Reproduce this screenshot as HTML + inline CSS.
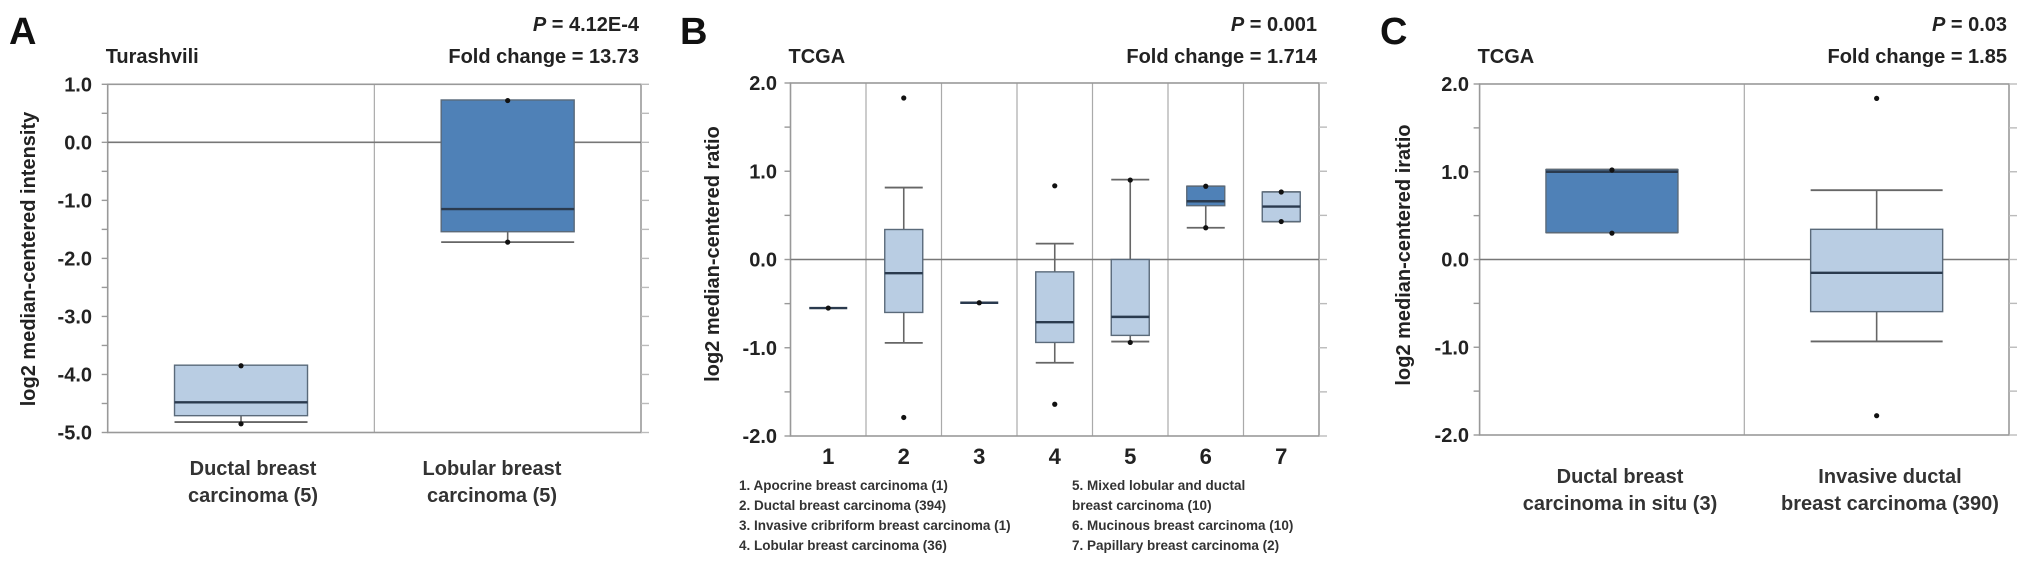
<!DOCTYPE html>
<html><head><meta charset="utf-8"><style>
html,body{margin:0;padding:0;background:#fff;}
svg{display:block;font-family:"Liberation Sans",Arial,sans-serif;}
</style></head><body>
<svg id="fig" width="2031" height="568" viewBox="0 0 2031 568" xmlns="http://www.w3.org/2000/svg"></svg>
<script>
// Panel A data
const aCategories = ["Ductal breast|carcinoma (5)", "Lobular breast|carcinoma (5)"];
const aWhiskerHigh = [-3.85, 0.72];
const aQ3 = [-3.84, 0.73];
const aMedian = [-4.48, -1.15];
const aQ1 = [-4.71, -1.54];
const aWhiskerLow = [-4.82, -1.72];
const aDots = [[-3.85, -4.85], [0.72, -1.72]];
const aDark = [false, true];
const aTicks = ["1.0","0.0","-1.0","-2.0","-3.0","-4.0","-5.0"];
// Panel B data
const bCategories = ["1","2","3","4","5","6","7"];
const bWhiskerHigh = [-0.55, 0.815, -0.49, 0.18, 0.905, 0.83, 0.765];
const bQ3 = [-0.55, 0.34, -0.49, -0.14, 0.0, 0.83, 0.765];
const bMedian = [-0.55, -0.155, -0.49, -0.71, -0.65, 0.66, 0.60];
const bQ1 = [-0.55, -0.60, -0.49, -0.94, -0.86, 0.61, 0.43];
const bWhiskerLow = [-0.55, -0.945, -0.49, -1.17, -0.93, 0.36, 0.43];
const bDots = [[-0.55], [1.83, -1.79], [-0.49], [0.835, -1.64], [0.9, -0.94], [0.83, 0.36], [0.765, 0.43]];
const bDark = [false, false, false, false, false, true, false];
const bTicks = ["2.0","1.0","0.0","-1.0","-2.0"];
const bLegendLeft = ["1. Apocrine breast carcinoma  (1)","2. Ductal breast carcinoma (394)","3. Invasive cribriform breast carcinoma  (1)","4. Lobular breast carcinoma (36)"];
const bLegendRight = ["5. Mixed lobular and ductal","    breast carcinoma  (10)","6. Mucinous breast carcinoma (10)","7. Papillary breast carcinoma (2)"];
// Panel C data
const cCategories = ["Ductal breast|carcinoma in situ (3)", "Invasive ductal|breast carcinoma (390)"];
const cWhiskerHigh = [1.025, 0.79];
const cQ3 = [1.025, 0.344];
const cMedian = [1.0, -0.152];
const cQ1 = [0.307, -0.594];
const cWhiskerLow = [0.307, -0.934];
const cDots = [[1.02, 0.30], [1.836, -1.78]];
const cDark = [true, false];
const cTicks = ["2.0","1.0","0.0","-1.0","-2.0"];

const NS = "http://www.w3.org/2000/svg";
const svg = document.getElementById("fig");
function mk(tag, attrs, parent){
  const e = document.createElementNS(NS, tag);
  for (const k in attrs) e.setAttribute(k, attrs[k]);
  (parent||svg).appendChild(e);
  return e;
}
function txt(s, attrs, parent){ const e = mk("text", attrs, parent); e.textContent = s; return e; }

function panel(p){
  const g = mk("g", {});
  
  
  const yMax = p.yMax, yMin = p.yMin;
  const y = v => p.top + (yMax - v) / (yMax - yMin) * (p.bottom - p.top);
  const n = p.cats.length;
  const cw = (p.right - p.left) / n;
  const xc = i => p.left + cw * (i + 0.5);
  // dividers
  for (let i = 1; i < n; i++) {
    const l = mk("line", {x1:p.left+cw*i, x2:p.left+cw*i, y1:p.top, y2:p.bottom, stroke:"#aaa", "stroke-width":1.2}, g);
    
    
  }
  // frame
  const fr = mk("rect", {x:p.left, y:p.top, width:p.right-p.left, height:p.bottom-p.top, fill:"none", stroke:"#999", "stroke-width":1.6}, g);
  
  
  // ticks
  for (let v = yMax; v >= yMin - 1e-9; v -= 0.5) {
    const yy = y(v);
    const t1 = mk("line", {x1:p.left-6, x2:p.left, y1:yy, y2:yy, stroke:"#999", "stroke-width":1.4}, g);
    
    
    const t2 = mk("line", {x1:p.right, x2:p.right+8, y1:yy, y2:yy, stroke:"#bbb", "stroke-width":1.4}, g);
    
    
  }
  p.ticks.forEach(s => {
    const tl = txt(s, {x:p.labelRight, y:y(parseFloat(s))+7, "text-anchor":"end", "font-size":20, "font-weight":"bold", fill:"#222"}, g);
    
    
  });
  // zero line
  const z = mk("line", {x1:p.left, x2:p.right, y1:y(0), y2:y(0), stroke:"#777", "stroke-width":1.6}, g);
  
  
  // boxes
  for (let i = 0; i < n; i++) {
    const cx = p.boxX ? p.boxX[i] + p.boxW/2 : xc(i);
    const bw = p.boxW;
    const bx = cx - bw/2;
    const stroke = "#5a6a7a";
    const single = p.q3[i] === p.q1[i];
    if (!single) {
      const wh = mk("line", {x1:cx, x2:cx, y1:y(p.wh[i]), y2:y(p.q3[i]), stroke:"#666", "stroke-width":1.6}, g);
      
      
      const wl = mk("line", {x1:cx, x2:cx, y1:y(p.q1[i]), y2:y(p.wl[i]), stroke:"#666", "stroke-width":1.6}, g);
      
      
      const ch = mk("line", {x1:bx, x2:bx+bw, y1:y(p.wh[i]), y2:y(p.wh[i]), stroke:"#666", "stroke-width":1.8}, g);
      
      
      const cl = mk("line", {x1:bx, x2:bx+bw, y1:y(p.wl[i]), y2:y(p.wl[i]), stroke:"#666", "stroke-width":1.8}, g);
      
      
      const r = mk("rect", {x:bx, y:y(p.q3[i]), width:bw, height:y(p.q1[i])-y(p.q3[i]), fill:p.dark[i]?"#4f81b7":"#b9cde3", stroke:stroke, "stroke-width":1.4}, g);
      
      
    }
    const m = mk("line", {x1:bx, x2:bx+bw, y1:y(p.med[i]), y2:y(p.med[i]), stroke:"#2a3a4e", "stroke-width":2.4}, g);
    
    
    p.dots[i].forEach(v => {
      const d = mk("circle", {cx:cx, cy:y(v), r:2.6, fill:"#111"}, g);
      
      
    });
    // x labels
    const parts = p.cats[i].split("|");
    parts.forEach((s, k) => {
      const lx = p.xLabelX ? p.xLabelX[i] : xc(i);
      const t = txt(s, {x:lx, y:p.xLabelY + k*p.xLabelGap, "text-anchor":"middle", "font-size":p.xLabelSize, "font-weight":"bold", fill:p.xLabelColor}, g);
      
      
    });
  }
  // titles
  const L = txt(p.letter, {x:p.letterX, y:44, "font-size":38, "font-weight":"bold", fill:"#111"}, g);
  
  
  const P = mk("text", {x:p.right-2, y:31, "text-anchor":"end", "font-size":20, "font-weight":"bold", fill:"#222"}, g);
  
  
  const ts = document.createElementNS(NS, "tspan"); ts.setAttribute("font-style","italic"); ts.textContent = "P"; P.appendChild(ts);
  P.appendChild(document.createTextNode(" = " + p.pval));
  const F = txt("Fold change = " + p.fold, {x:p.right-2, y:63, "text-anchor":"end", "font-size":20, "font-weight":"bold", fill:"#222"}, g);
  
  
  const D = txt(p.dataset, {x:p.left-2, y:63, "font-size":20, "font-weight":"bold", fill:"#222"}, g);
  
  
  const Y = txt(p.ytitle, {x:0, y:0, "text-anchor":"middle", "font-size":20, "font-weight":"bold", fill:"#222", transform:`translate(${p.ytX},${p.ytY}) rotate(-90)`}, g);
  
  
  return {g, y, xc};
}

panel({name:"panel-a", letter:"A", letterX:9, left:107.7, right:641, top:84.3, bottom:432.5, yMax:1, yMin:-5,
  cats:aCategories, wh:aWhiskerHigh, q3:aQ3, med:aMedian, q1:aQ1, wl:aWhiskerLow, dots:aDots, dark:aDark, ticks:aTicks,
  boxW:133, labelRight:92, xLabelY:475, xLabelGap:27, xLabelSize:20, xLabelColor:"#333", xLabelX:[253, 492],
  pval:"4.12E-4", fold:"13.73", dataset:"Turashvili", ytitle:"log2 median-centered intensity", ytX:35, ytY:259});

const pb = panel({name:"panel-b", letter:"B", letterX:680, left:790.5, right:1319, top:83, bottom:436, yMax:2, yMin:-2,
  cats:bCategories, wh:bWhiskerHigh, q3:bQ3, med:bMedian, q1:bQ1, wl:bWhiskerLow, dots:bDots, dark:bDark, ticks:bTicks,
  boxW:38, labelRight:777, xLabelY:464, xLabelGap:0, xLabelSize:22, xLabelColor:"#222",
  pval:"0.001", fold:"1.714", dataset:"TCGA", ytitle:"log2 median-centered ratio", ytX:719, ytY:254});

bLegendLeft.forEach((s, k) => {
  const t = txt(s, {x:739, y:490 + k*20, "font-size":13.5, "font-weight":"bold", fill:"#333", "xml:space":"preserve"}, pb.g);
  
  
});
bLegendRight.forEach((s, k) => {
  const t = txt(s, {x:1072, y:490 + k*20, "font-size":13.5, "font-weight":"bold", fill:"#333", "xml:space":"preserve"}, pb.g);
  
  
});

panel({name:"panel-c", letter:"C", letterX:1380, left:1479.6, right:2009, top:84, bottom:435, yMax:2, yMin:-2,
  cats:cCategories, wh:cWhiskerHigh, q3:cQ3, med:cMedian, q1:cQ1, wl:cWhiskerLow, dots:cDots, dark:cDark, ticks:cTicks,
  boxW:132, labelRight:1469, xLabelY:483, xLabelGap:27, xLabelSize:20, xLabelColor:"#333", xLabelX:[1620, 1890],
  pval:"0.03", fold:"1.85", dataset:"TCGA", ytitle:"log2 median-centered iratio", ytX:1410, ytY:255});
</script>
</body></html>
